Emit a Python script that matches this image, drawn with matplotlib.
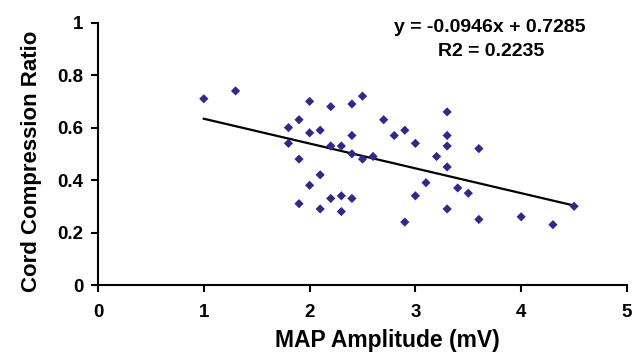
import matplotlib
matplotlib.use("Agg")
import matplotlib.pyplot as plt
import numpy as np

plt.rcParams['font.family'] = ['Liberation Sans', 'DejaVu Sans']
plt.rcParams['font.weight'] = 'bold'

# Data
map_amplitude = [1.0, 1.3, 1.8, 1.8, 1.9, 1.9, 1.9, 2.0, 2.0, 2.0,
                 2.1, 2.1, 2.1, 2.2, 2.2, 2.2, 2.3, 2.3, 2.3, 2.4,
                 2.4, 2.4, 2.4, 2.5, 2.5, 2.6, 2.7, 2.8, 2.9, 2.9,
                 3.0, 3.0, 3.1, 3.2, 3.3, 3.3, 3.3, 3.3, 3.3, 3.4,
                 3.5, 3.6, 3.6, 4.0, 4.3, 4.5]
compression_ratio = [0.71, 0.74, 0.60, 0.54, 0.63, 0.48, 0.31, 0.70, 0.58, 0.38,
                     0.59, 0.42, 0.29, 0.68, 0.53, 0.33, 0.53, 0.34, 0.28, 0.69,
                     0.57, 0.50, 0.33, 0.72, 0.48, 0.49, 0.63, 0.57, 0.59, 0.24,
                     0.54, 0.34, 0.39, 0.49, 0.66, 0.57, 0.53, 0.45, 0.29, 0.37,
                     0.35, 0.52, 0.25, 0.26, 0.23, 0.30]
slope = -0.0946
intercept = 0.7285
r2 = 0.2235
x_ticks = [0, 1, 2, 3, 4, 5]
y_ticks = [0, 0.2, 0.4, 0.6, 0.8, 1.0]
y_tick_labels = ["0", "0.2", "0.4", "0.6", "0.8", "1"]

W, H = 643, 354
fig = plt.figure(figsize=(W / 100, H / 100), dpi=100)
ax = fig.add_axes([98 / W, (H - 285) / H, (627 - 98) / W, (285 - 22.7) / H])

ax.scatter(map_amplitude, compression_ratio, marker='D', s=22, color='#2f2a8a',
           edgecolors='none', zorder=3)
xs = np.array([min(map_amplitude), max(map_amplitude)])
ax.plot(xs, slope * xs + intercept, color='black', lw=1.6, zorder=2)

ax.set_xlim(0, 5)
ax.set_ylim(0, 1)
ax.set_xticks(x_ticks)
ax.set_yticks(y_ticks)
ax.set_yticklabels(y_tick_labels)
for s in ['top', 'right']:
    ax.spines[s].set_visible(False)
for s in ['left', 'bottom']:
    ax.spines[s].set_linewidth(1.5)
ax.tick_params(axis='both', direction='out', length=5, width=1.5, labelsize=13.5)
ax.tick_params(axis='x', pad=9)
ax.tick_params(axis='y', pad=5.5)
for lab in ax.get_xticklabels() + ax.get_yticklabels():
    lab.set_fontweight('bold')

fig.text(387.5 / W, 1 - 347 / H, 'MAP Amplitude (mV)', ha='center', va='baseline',
         fontsize=16.5, fontweight='bold')
fig.text(36.7 / W, 1 - 161 / H, 'Cord Compression Ratio', ha='center', va='baseline',
         rotation=90, rotation_mode='anchor', fontsize=16, fontweight='bold')

fig.text(490 / W, 1 - 31.7 / H, f'y = {slope}x + {intercept}', ha='center', va='baseline',
         fontsize=14, fontweight='bold')
fig.text(491 / W, 1 - 55.7 / H, f'R2 = {r2}', ha='center', va='baseline',
         fontsize=14, fontweight='bold')

fig.savefig('out.png', dpi=100)
